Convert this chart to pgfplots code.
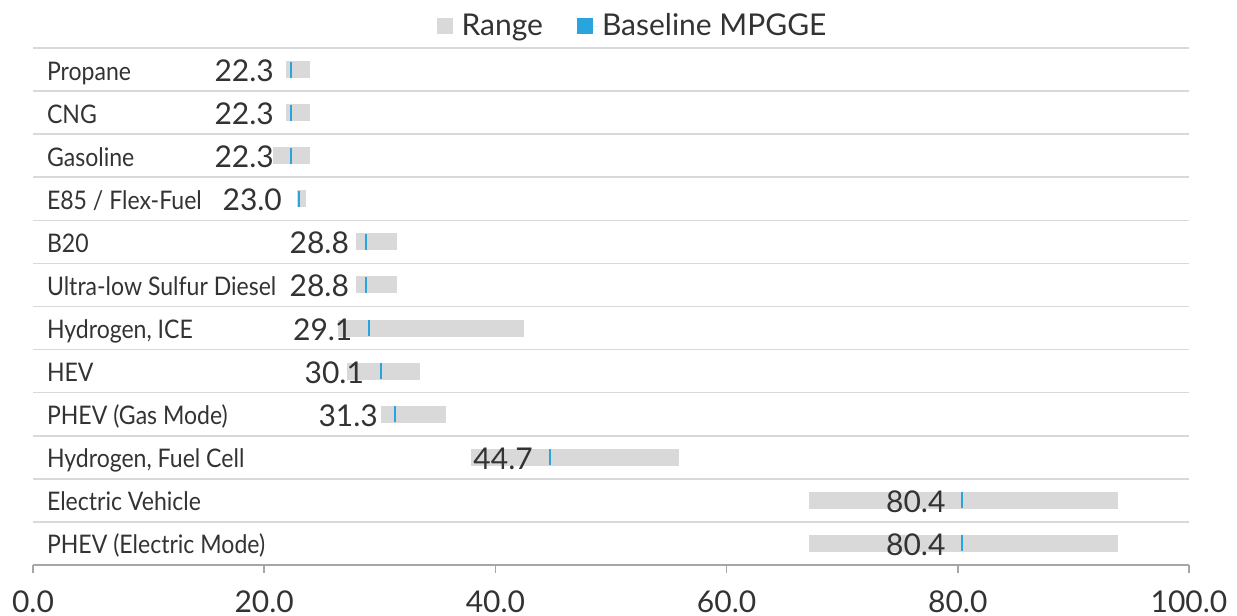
\documentclass[border=0pt]{standalone}
\usepackage{pgfplots}
\pgfplotsset{compat=1.18}
\usepackage{pgfplotstable}
\usepackage{fontspec}
\setmainfont{Lato}
\newfontfamily\catfont{Lato}[FakeStretch=0.9]
\definecolor{rangegray}{HTML}{D9D9D9}
\definecolor{gridgray}{HTML}{D9D9D9}
\definecolor{axisgray}{HTML}{A6A6A6}
\definecolor{mpblue}{HTML}{29A5DE}
\definecolor{txt}{HTML}{333333}

\pgfplotstableread{
y lo base hi
11 21.9 22.3 24.0
10 21.9 22.3 24.0
9 20.8 22.3 24.0
8 22.8 23.0 23.6
7 27.9 28.8 31.5
6 27.9 28.8 31.5
5 26.4 29.1 42.5
4 27.2 30.1 33.5
3 30.1 31.3 35.7
2 37.9 44.7 55.9
1 67.1 80.4 93.9
0 67.1 80.4 93.9
}\datatable

\begin{document}
\begin{tikzpicture}
\begin{axis}[
  name=ax,
  scale only axis,
  width=578bp, height=258.5bp,
  xmin=0, xmax=100,
  ymin=-0.5, ymax=11.5,
  axis lines=left,
  axis line style={-, draw=axisgray, line width=0.8bp},
  y axis line style={draw=none},
  xtick={0,20,...,100},
  tick align=outside,
  x tick style={draw=axisgray, line width=0.8bp},
  major tick length=4bp,
  xticklabel style={font=\fontsize{15bp}{18bp}\selectfont, text=txt, anchor=base, yshift=-19.5bp},
  /pgf/number format/.cd, fixed, fixed zerofill, precision=1, assume math mode=true, /pgfplots/.cd,
  ytick={0,...,11},
  yticklabels={PHEV (Electric Mode), Electric Vehicle, {Hydrogen, Fuel Cell}, PHEV (Gas Mode), HEV, {Hydrogen, ICE}, Ultra-low Sulfur Diesel, B20, E85 / Flex-Fuel, Gasoline, CNG, Propane},
  y tick style={draw=none},
  yticklabel style={font=\catfont\fontsize{12.8bp}{15bp}\selectfont, text=txt, anchor=base west, xshift=7.5bp, yshift=-5.25bp},
  minor ytick={0.5,1.5,...,11.5},
  yminorgrids,
  minor grid style={draw=gridgray, line width=0.8bp},
  clip=false,
  legend style={at={(0.5195,1)}, anchor=south, yshift=0.5bp, draw=none, fill=none,
    font=\fontsize{15bp}{18bp}\selectfont, text=txt, legend columns=2,
    /tikz/every even column/.append style={column sep=15bp}},
  legend image code/.code={\fill[#1, draw=none] (0bp,-4bp) rectangle (8bp,4bp); \path[draw=none] (0bp,0bp) -- (10.5bp,0bp);},
]
\addlegendimage{fill=rangegray}
\addlegendentry{Range}
\addlegendimage{fill=mpblue}
\addlegendentry{Baseline MPGGE}

\addplot[forget plot, draw=none, mark=none,
  error bars/.cd, x dir=both, x explicit, error mark=none,
  error bar style={line width=8.5bp, draw=rangegray, solid}]
  table[x=base, y=y, x error plus expr=\thisrow{hi}-\thisrow{base}, x error minus expr=\thisrow{base}-\thisrow{lo}] {\datatable};

\addplot[forget plot, only marks, mark=|, mark size=4bp, draw=mpblue,
  mark options={draw=mpblue, fill=mpblue, line width=1bp, solid},
  point meta=x,
  nodes near coords={\pgfmathprintnumber[fixed,fixed zerofill,precision=1,assume math mode=true]{\pgfplotspointmeta}},
  every node near coord/.append style={anchor=base east, inner sep=0pt, xshift=-8bp, yshift=-6bp, font=\fontsize{15bp}{18bp}\selectfont, text=txt}]
  table[x=base, y=y] {\datatable};
\end{axis}
\pgfresetboundingbox
\path ([xshift=-16.5bp,yshift=-25.5bp]ax.south west) rectangle ([xshift=24bp,yshift=24bp]ax.north east);
\end{tikzpicture}
\end{document}
